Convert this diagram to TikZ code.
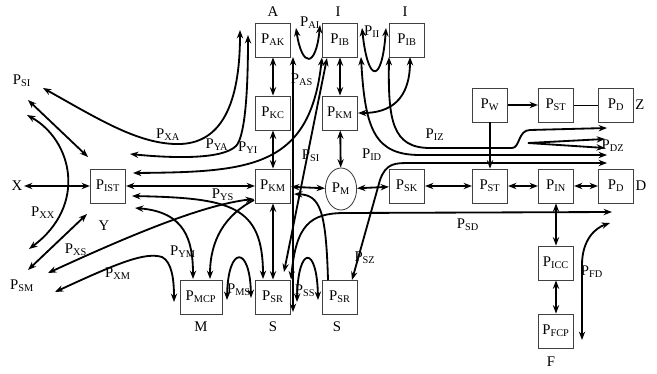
\documentclass[tikz,border=0pt]{standalone}
\usepackage{fontspec}
\setmainfont{Liberation Serif}
\usetikzlibrary{arrows.meta,shapes.geometric}
\newcommand{\Psub}[1]{P\textsubscript{#1}}

\begin{document}
\begin{tikzpicture}[x=0.025cm, y=-0.025cm,
  every node/.style={font=\fontsize{10.5}{12}\selectfont, inner sep=1pt},
  box/.style={draw=black!75, line width=0.6pt, minimum width=0.88cm, minimum height=0.85cm},
  arr/.style={-{Stealth[length=6pt,width=4.5pt,inset=2pt]}, line width=1.3pt},
  darr/.style={{Stealth[length=6pt,width=4.5pt,inset=2pt]}-{Stealth[length=6pt,width=4.5pt,inset=2pt]}, line width=1.3pt},
  plain/.style={line width=0.7pt},
]
  \useasboundingbox (0,0) rectangle (657,374);

  % Top rows
  \node[box] (ak)  at (273,40)  {\Psub{AK}};
  \node[box] (ib1) at (340,40)  {\Psub{IB}};
  \node[box] (ib2) at (407,40)  {\Psub{IB}};
  \node[box] (kc)  at (273,113) {\Psub{KC}};
  \node[box] (kmi) at (340,113) {\Psub{KM}};
  \node[box] (w)   at (490,105) {\Psub{W}};
  \node[box] (stz) at (556,105) {\Psub{ST}};
  \node[box] (dz)  at (616,105) {\Psub{D}};

  % Middle row
  \node[box] (ist) at (108,186) {\Psub{IST}};
  \node[box] (km)  at (273,186) {\Psub{KM}};
  \node[draw=black!75, line width=0.6pt, ellipse, minimum width=0.78cm, minimum height=1.05cm] (m) at (341,189) {\Psub{M}};
  \node[box] (sk)  at (407,186) {\Psub{SK}};
  \node[box] (st)  at (490,186) {\Psub{ST}};
  \node[box] (in)  at (556,186) {\Psub{IN}};
  \node[box] (dd)  at (616,186) {\Psub{D}};

  % Bottom row
  \node[box, minimum width=1.05cm] (mcp) at (201,297) {\Psub{MCP}};
  \node[box] (sr)  at (273,297) {\Psub{SR}};
  \node[box] (srr) at (340,297) {\Psub{SR}};
  \node[box] (icc) at (556,263) {\Psub{ICC}};
  \node[box] (fcp) at (556,331) {\Psub{FCP}};

  % Group letters
  \node (lA)  at (273,12)  {A};
  \node (lI1) at (338,12)  {I};
  \node (lI2) at (405,12)  {I};
  \node (lZ)  at (640,105) {Z};
  \node (lD)  at (641,186) {D};
  \node (lX)  at (17,186)  {X};
  \node (lY)  at (104,226) {Y};
  \node (lM)  at (201,327) {M};
  \node (lS1) at (273,327) {S};
  \node (lS2) at (337,327) {S};
  \node (lF)  at (551,362) {F};

  % Free ends
  \coordinate (xx-a) at (27,115);
  \coordinate (xx-b) at (29,249);
  \coordinate (si-a) at (28,100);
  \coordinate (si-b) at (88,157);
  \coordinate (sm-a) at (28,270);
  \coordinate (sm-b) at (87,214);
  \coordinate (xa-a) at (43,88);
  \coordinate (xa-b) at (240,30);
  \coordinate (ya-a) at (130,154);
  \coordinate (ya-b) at (248,35);
  \coordinate (yi-a) at (133,173);
  \coordinate (ys-a) at (132,196);
  \coordinate (ym-a) at (135,208);
  \coordinate (xs-a) at (48,273);
  \coordinate (xm-a) at (55,292);
  \coordinate (xm-b) at (174,302);
  \coordinate (ai-a) at (296,28);
  \coordinate (ai-b) at (320,25);
  \coordinate (ii-a) at (362,28);
  \coordinate (ii-b) at (386,28);
  \coordinate (as-a) at (293,57);
  \coordinate (as-b) at (293,312);
  \coordinate (ms-a) at (227,300);
  \coordinate (ms-b) at (251,298);
  \coordinate (ss-a) at (297,302);
  \coordinate (ss-b) at (318,300);
  \coordinate (iz-b) at (607,128);
  \coordinate (dz-a) at (605,139);
  \coordinate (dz-b) at (605,148);
  \coordinate (id-b) at (607,155);
  \coordinate (sz-b) at (607,163);
  \coordinate (sd-b) at (612,212);
  \coordinate (fd-a) at (582,340);
  \coordinate (fd-b) at (610,223);

  % Left side
  \draw[darr] (lX) -- (ist);
  \draw[darr] (si-a) -- (si-b);
  \draw[darr] (sm-a) -- (sm-b);
  \draw[darr] (xx-a) .. controls (72,140) and (88,205) .. (xx-b);
  \draw[darr] (xa-a) .. controls (100,120) and (140,145) .. (180,144)
              .. controls (215,143) and (240,115) .. (xa-b);
  \draw[darr] (ya-a) .. controls (170,158) and (222,160) .. (236,146)
              .. controls (244,138) and (248,100) .. (ya-b);
  \draw[darr] (yi-a) .. controls (250,172) and (310,168) .. (ib1.south west);
  \draw[darr] (ys-a) .. controls (230,198) and (263,205) .. (263,279);
  \draw[darr] (ym-a) .. controls (185,212) and (193,240) .. (193,279);
  \draw[darr] (xs-a) .. controls (120,240) and (200,205) .. (254,199);
  \draw[arr]  (254,200) .. controls (225,215) and (210,240) .. (210,279);
  \draw[darr] (xm-a) .. controls (120,262) and (145,252) .. (162,257)
              .. controls (172,262) and (174,280) .. (xm-b);

  % Columns A and I
  \draw[darr] (ak) -- (kc);
  \draw[darr] (kc) -- (km);
  \draw[darr] (km) -- (sr);
  \draw[darr] (ib1) -- (kmi);
  \draw[darr] (kmi) -- (m);
  \draw[darr] (ai-a) .. controls (302,68) and (316,68) .. (ai-b);
  \draw[darr] (ii-a) .. controls (368,84) and (382,84) .. (ii-b);
  \draw[darr] (as-a) -- (as-b);
  \draw[darr] (284,272) -- (327,58);
  \draw[darr] (410,57) .. controls (410,100) and (390,113) .. (kmi.east);

  % Middle row links
  \draw[darr] (ist) -- (km);
  \draw[darr] (km) -- (m);
  \draw[darr] (m) -- (sk);
  \draw[darr] (sk) -- (st);
  \draw[darr] (st) -- (in);
  \draw[darr] (in) -- (dd);
  \draw[arr]  (w) -- (stz);
  \draw[plain] (stz) -- (dz);
  \draw[arr]  (w) -- (st);
  \draw[darr] (in) -- (icc);
  \draw[darr] (icc) -- (fcp);

  % Bottom loops
  \draw[darr] (ms-a) .. controls (228,245) and (250,245) .. (ms-b);
  \draw[darr] (ss-a) .. controls (298,245) and (317,245) .. (ss-b);
  \draw[arr]  (328,280) .. controls (326,210) and (320,195) .. (294,194);

  % Long links to the right
  \draw[darr] (sr.north east) .. controls (296,225) and (310,213) .. (345,213) -- (sd-b);
  \draw[darr] (352,280) -- (380,180) .. controls (386,163) and (395,163) .. (410,163) -- (sz-b);
  \draw[darr] (361,57) .. controls (365,130) and (375,155) .. (420,155) -- (id-b);
  \draw[darr] (389,57) .. controls (388,120) and (392,148) .. (430,148) -- (512,148)
              .. controls (520,148) and (518,130) .. (530,130) -- (iz-b);
  \draw[darr] (dz-a) -- (528,143) -- (dz-b);
  \draw[darr] (fd-a) -- (582,265) .. controls (582,240) and (595,228) .. (fd-b);

  % Link labels
  \node at (22,81)   {\Psub{SI}};
  \node at (22,286)  {\Psub{SM}};
  \node at (43,213)  {\Psub{XX}};
  \node at (76,250)  {\Psub{XS}};
  \node at (118,274) {\Psub{XM}};
  \node at (183,252) {\Psub{YM}};
  \node at (239,290) {\Psub{MS}};
  \node at (305,291) {\Psub{SS}};
  \node at (168,135) {\Psub{XA}};
  \node at (217,145) {\Psub{YA}};
  \node at (248,148) {\Psub{YI}};
  \node at (311,156) {\Psub{SI}};
  \node at (302,80)  {\Psub{AS}};
  \node at (310,23)  {\Psub{AI}};
  \node at (372,32)  {\Psub{II}};
  \node at (435,135) {\Psub{IZ}};
  \node at (372,155) {\Psub{ID}};
  \node at (223,195) {\Psub{YS}};
  \node at (365,258) {\Psub{SZ}};
  \node at (468,225) {\Psub{SD}};
  \node at (613,146) {\Psub{DZ}};
  \node at (592,272) {\Psub{FD}};
\end{tikzpicture}
\end{document}
